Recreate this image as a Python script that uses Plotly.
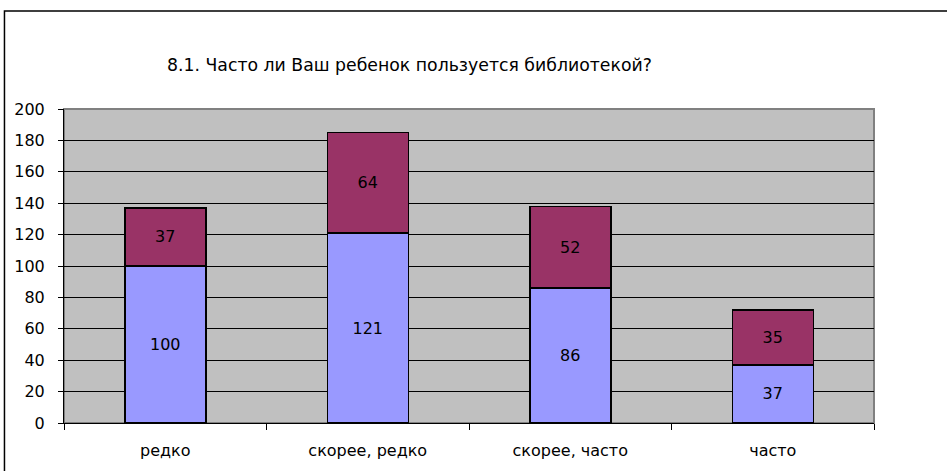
import plotly.graph_objects as go

# --- data ---
categories = ["редко", "скорее, редко", "скорее, часто", "часто"]
lower_values = [100, 121, 86, 37]
upper_values = [37, 64, 52, 35]
y_ticks = list(range(0, 201, 20))

title_text = "8.1. Часто ли Ваш ребенок пользуется библиотекой?"
FONT = "DejaVu Sans, Arial, sans-serif"

fig = go.Figure()

for vals, color in [(lower_values, "#9999FF"), (upper_values, "#993366")]:
    fig.add_trace(go.Bar(
        x=categories,
        y=vals,
        text=[str(v) for v in vals],
        textposition="inside",
        insidetextanchor="middle",
        textangle=0,
        constraintext="none",
        textfont=dict(color="black", size=16, family=FONT),
        marker=dict(color=color, line=dict(color="black", width=1.5)),
        width=0.4,
        showlegend=False,
        hoverinfo="skip",
    ))

fig.update_layout(
    width=947,
    height=471,
    barmode="stack",
    margin=dict(l=64, r=73, t=109, b=48),
    paper_bgcolor="white",
    plot_bgcolor="#C0C0C0",
    font=dict(family=FONT, size=16, color="black"),
    xaxis=dict(
        showgrid=False,
        showline=True,
        linecolor="black",
        linewidth=1,
        ticks="outside",
        tickson="boundaries",
        ticklen=6,
        tickcolor="black",
        ticklabelstandoff=13,
    ),
    yaxis=dict(
        range=[0, 200],
        tickvals=y_ticks,
        showgrid=True,
        gridcolor="black",
        gridwidth=1,
        showline=True,
        linecolor="black",
        linewidth=1,
        ticks="outside",
        ticklen=5,
        tickcolor="black",
        ticklabelstandoff=10,
        zeroline=False,
    ),
    shapes=[
        # grey plot-area border (top and right sides)
        dict(type="rect", xref="paper", yref="paper", x0=0, y0=0, x1=1, y1=1,
             line=dict(color="#808080", width=2), layer="below"),
        # outer chart frame (runs off the right and bottom edges)
        dict(type="rect", xref="paper", yref="paper", x0=-0.0735, y0=-0.3, x1=1.2, y1=1.312,
             line=dict(color="black", width=1.5)),
    ],
    annotations=[
        dict(text=title_text, xref="paper", yref="paper", x=0.426, y=1.140,
             showarrow=False, font=dict(size=17.3, color="black"),
             xanchor="center", yanchor="middle"),
    ],
)

# page body has a default 8px margin; drop it so the chart sits at the window corner
fig.write_html("out.html", config={"displayModeBar": False},
               post_script="document.body.style.margin='0';")
